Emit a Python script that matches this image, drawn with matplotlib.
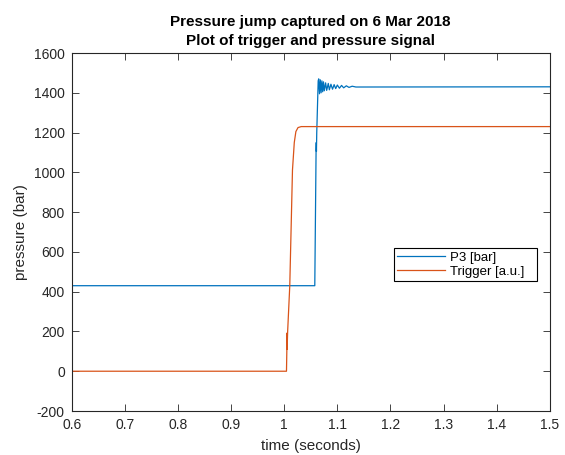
import matplotlib
matplotlib.use("Agg")
import matplotlib.pyplot as plt
from matplotlib.ticker import MultipleLocator

# P3 pressure signal [bar]
P3_TIME = [0.6, 1.0576, 1.0600, 1.0604, 1.0607, 1.0613, 1.0640,
           1.0650, 1.0665, 1.0680, 1.0695, 1.0710, 1.0725, 1.0740, 1.0755,
           1.0780, 1.0800, 1.0830, 1.0850, 1.0880, 1.0910, 1.0940, 1.0970,
           1.1000, 1.1040, 1.1080, 1.1120, 1.1170, 1.1220, 1.1280, 1.1350, 1.5]
P3_VALUE = [430, 430, 1100, 1150, 1105, 1200, 1460,
            1470, 1395, 1465, 1400, 1460, 1405, 1455, 1410,
            1450, 1412, 1447, 1415, 1443, 1418, 1441, 1421,
            1439, 1423, 1437, 1425, 1435, 1427, 1433, 1429, 1430]

# Trigger signal [a.u.]
TRIG_TIME = [0.6, 1.0043, 1.0050, 1.0052, 1.0055, 1.0065, 1.0105,
             1.0156, 1.0190, 1.0220, 1.0260, 1.0320, 1.5]
TRIG_VALUE = [0, 0, 107, 192, 110, 200, 430,
              1012, 1150, 1205, 1225, 1230, 1230]

BLUE = "#0072BD"
ORANGE = "#D95319"
AXIS_COLOR = "#262626"

plt.rcParams["font.family"] = ["Liberation Sans", "DejaVu Sans"]
plt.rcParams["axes.unicode_minus"] = False

fig = plt.figure(figsize=(5.65, 4.55), dpi=100)
ax = fig.add_axes([0.127, 0.0967, 0.846, 0.7868])

ax.plot(P3_TIME, P3_VALUE, color=BLUE, linewidth=0.9, label="P3 [bar]")
ax.plot(TRIG_TIME, TRIG_VALUE, color=ORANGE, linewidth=0.9, label="Trigger [a.u.]")

ax.set_xlim(0.6, 1.5)
ax.set_ylim(-200, 1600)
ax.xaxis.set_major_locator(MultipleLocator(0.1))
ax.yaxis.set_major_locator(MultipleLocator(200))
ax.xaxis.set_major_formatter(plt.FuncFormatter(lambda v, _: f"{v:g}"))

ax.tick_params(direction="in", top=True, right=True, length=5, width=0.6,
               colors=AXIS_COLOR, labelsize=10, pad=5)
for spine in ax.spines.values():
    spine.set_color(AXIS_COLOR)
    spine.set_linewidth(0.8)

ax.set_xlabel("time (seconds)", fontsize=11, color=AXIS_COLOR, labelpad=5)
ax.set_ylabel("pressure (bar)", fontsize=11, color=AXIS_COLOR, labelpad=4)
ax.set_title("Pressure jump captured on 6 Mar 2018\nPlot of trigger and pressure signal",
             fontsize=11, fontweight="bold", linespacing=1.45, pad=6)

leg = ax.legend(loc="lower left", bbox_to_anchor=(0.674, 0.363, 0.3, 0.1),
                mode="expand", fontsize=9.5, fancybox=False, framealpha=1,
                edgecolor="black", handlelength=3.6, handletextpad=0.4,
                borderpad=0.25, labelspacing=0.15, borderaxespad=0)
leg.get_frame().set_linewidth(0.8)

fig.savefig("out.png", dpi=100)
